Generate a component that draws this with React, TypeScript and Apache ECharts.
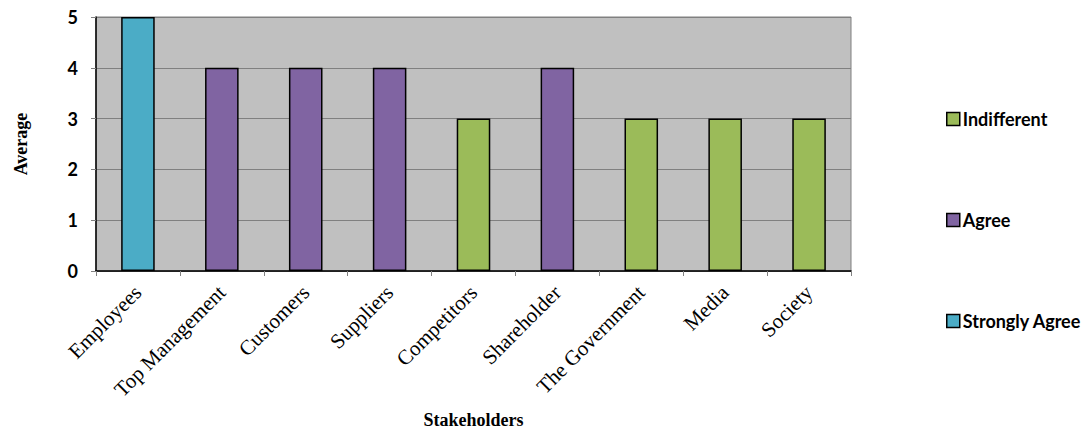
import React, { useEffect, useRef } from "react";
import * as echarts from "echarts";

const categories = ["Employees", "Top Management", "Customers", "Suppliers", "Competitors", "Shareholder", "The Government", "Media", "Society"];
const indifferent = [null, null, null, null, 3, null, 3, 3, 3];
const agree = [null, 4, 4, 4, null, 4, null, null, null];
const stronglyAgree = [5, null, null, null, null, null, null, null, null];
const yTicks = [0, 1, 2, 3, 4, 5];

export default function App() {
  const ref = useRef<HTMLDivElement>(null);
  useEffect(() => {
    document.body.style.margin = "0";
    const chart = echarts.init(ref.current!, null, { renderer: "svg" });
    const barStyle = (color: string) => ({ color, borderColor: "#000", borderWidth: 1.5 });
    chart.setOption({
      animation: false,
      backgroundColor: "#fff",
      grid: {
        left: 96, right: 234, top: 17, bottom: 160, show: true,
        outerBoundsMode: "none", containLabel: false,
        backgroundColor: "#c0c0c0", borderColor: "#808080", borderWidth: 1,
      },
      legend: {
        orient: "vertical",
        left: 941,
        top: 105,
        itemWidth: 13,
        itemHeight: 13,
        itemGap: 83,
        icon: "rect",
        itemStyle: { borderColor: "#000", borderWidth: 1.5 },
        textStyle: { fontFamily: "Lato", fontWeight: "bold", fontSize: 18, color: "#000", padding: [0, 0, 0, -2] },
        data: ["Indifferent", "Agree", "Strongly Agree"],
      },
      xAxis: {
        type: "category",
        data: categories,
        name: "Stakeholders",
        nameLocation: "middle",
        nameGap: 140,
        nameTextStyle: { fontFamily: "Liberation Serif", fontWeight: "bold", fontSize: 18, color: "#000" },
        axisLine: { lineStyle: { color: "#000", width: 1.5 } },
        axisTick: { show: true, alignWithLabel: false, lineStyle: { color: "#808080" }, length: 5 },
        axisLabel: { rotate: 45, fontFamily: "Liberation Serif", fontSize: 21, color: "#000", interval: 0, margin: 18 },
      },
      yAxis: {
        type: "value",
        min: 0,
        max: 5,
        interval: 1,
        name: "Average",
        nameLocation: "middle",
        nameGap: 66,
        nameTextStyle: { fontFamily: "Liberation Serif", fontWeight: "bold", fontSize: 18, color: "#000" },
        axisLine: { show: true, lineStyle: { color: "#000", width: 1.5 } },
        axisTick: { show: true, length: 5, lineStyle: { color: "#808080" } },
        splitLine: { lineStyle: { color: "#808080" } },
        axisLabel: {
          fontFamily: "Lato", fontWeight: "bold", fontSize: 18, color: "#000", margin: 18,
          formatter: (v: number) => (yTicks.includes(v) ? String(v) : ""),
        },
      },
      series: [
        { name: "Indifferent", type: "bar", stack: "s", barWidth: "40%", data: indifferent, itemStyle: barStyle("#9bbb59") },
        { name: "Agree", type: "bar", stack: "s", barWidth: "40%", data: agree, itemStyle: barStyle("#8064a2") },
        { name: "Strongly Agree", type: "bar", stack: "s", barWidth: "40%", data: stronglyAgree, itemStyle: barStyle("#4bacc6") },
      ],
    });
    return () => chart.dispose();
  }, []);
  return <div ref={ref} style={{ width: 1085, height: 431 }} />;
}
